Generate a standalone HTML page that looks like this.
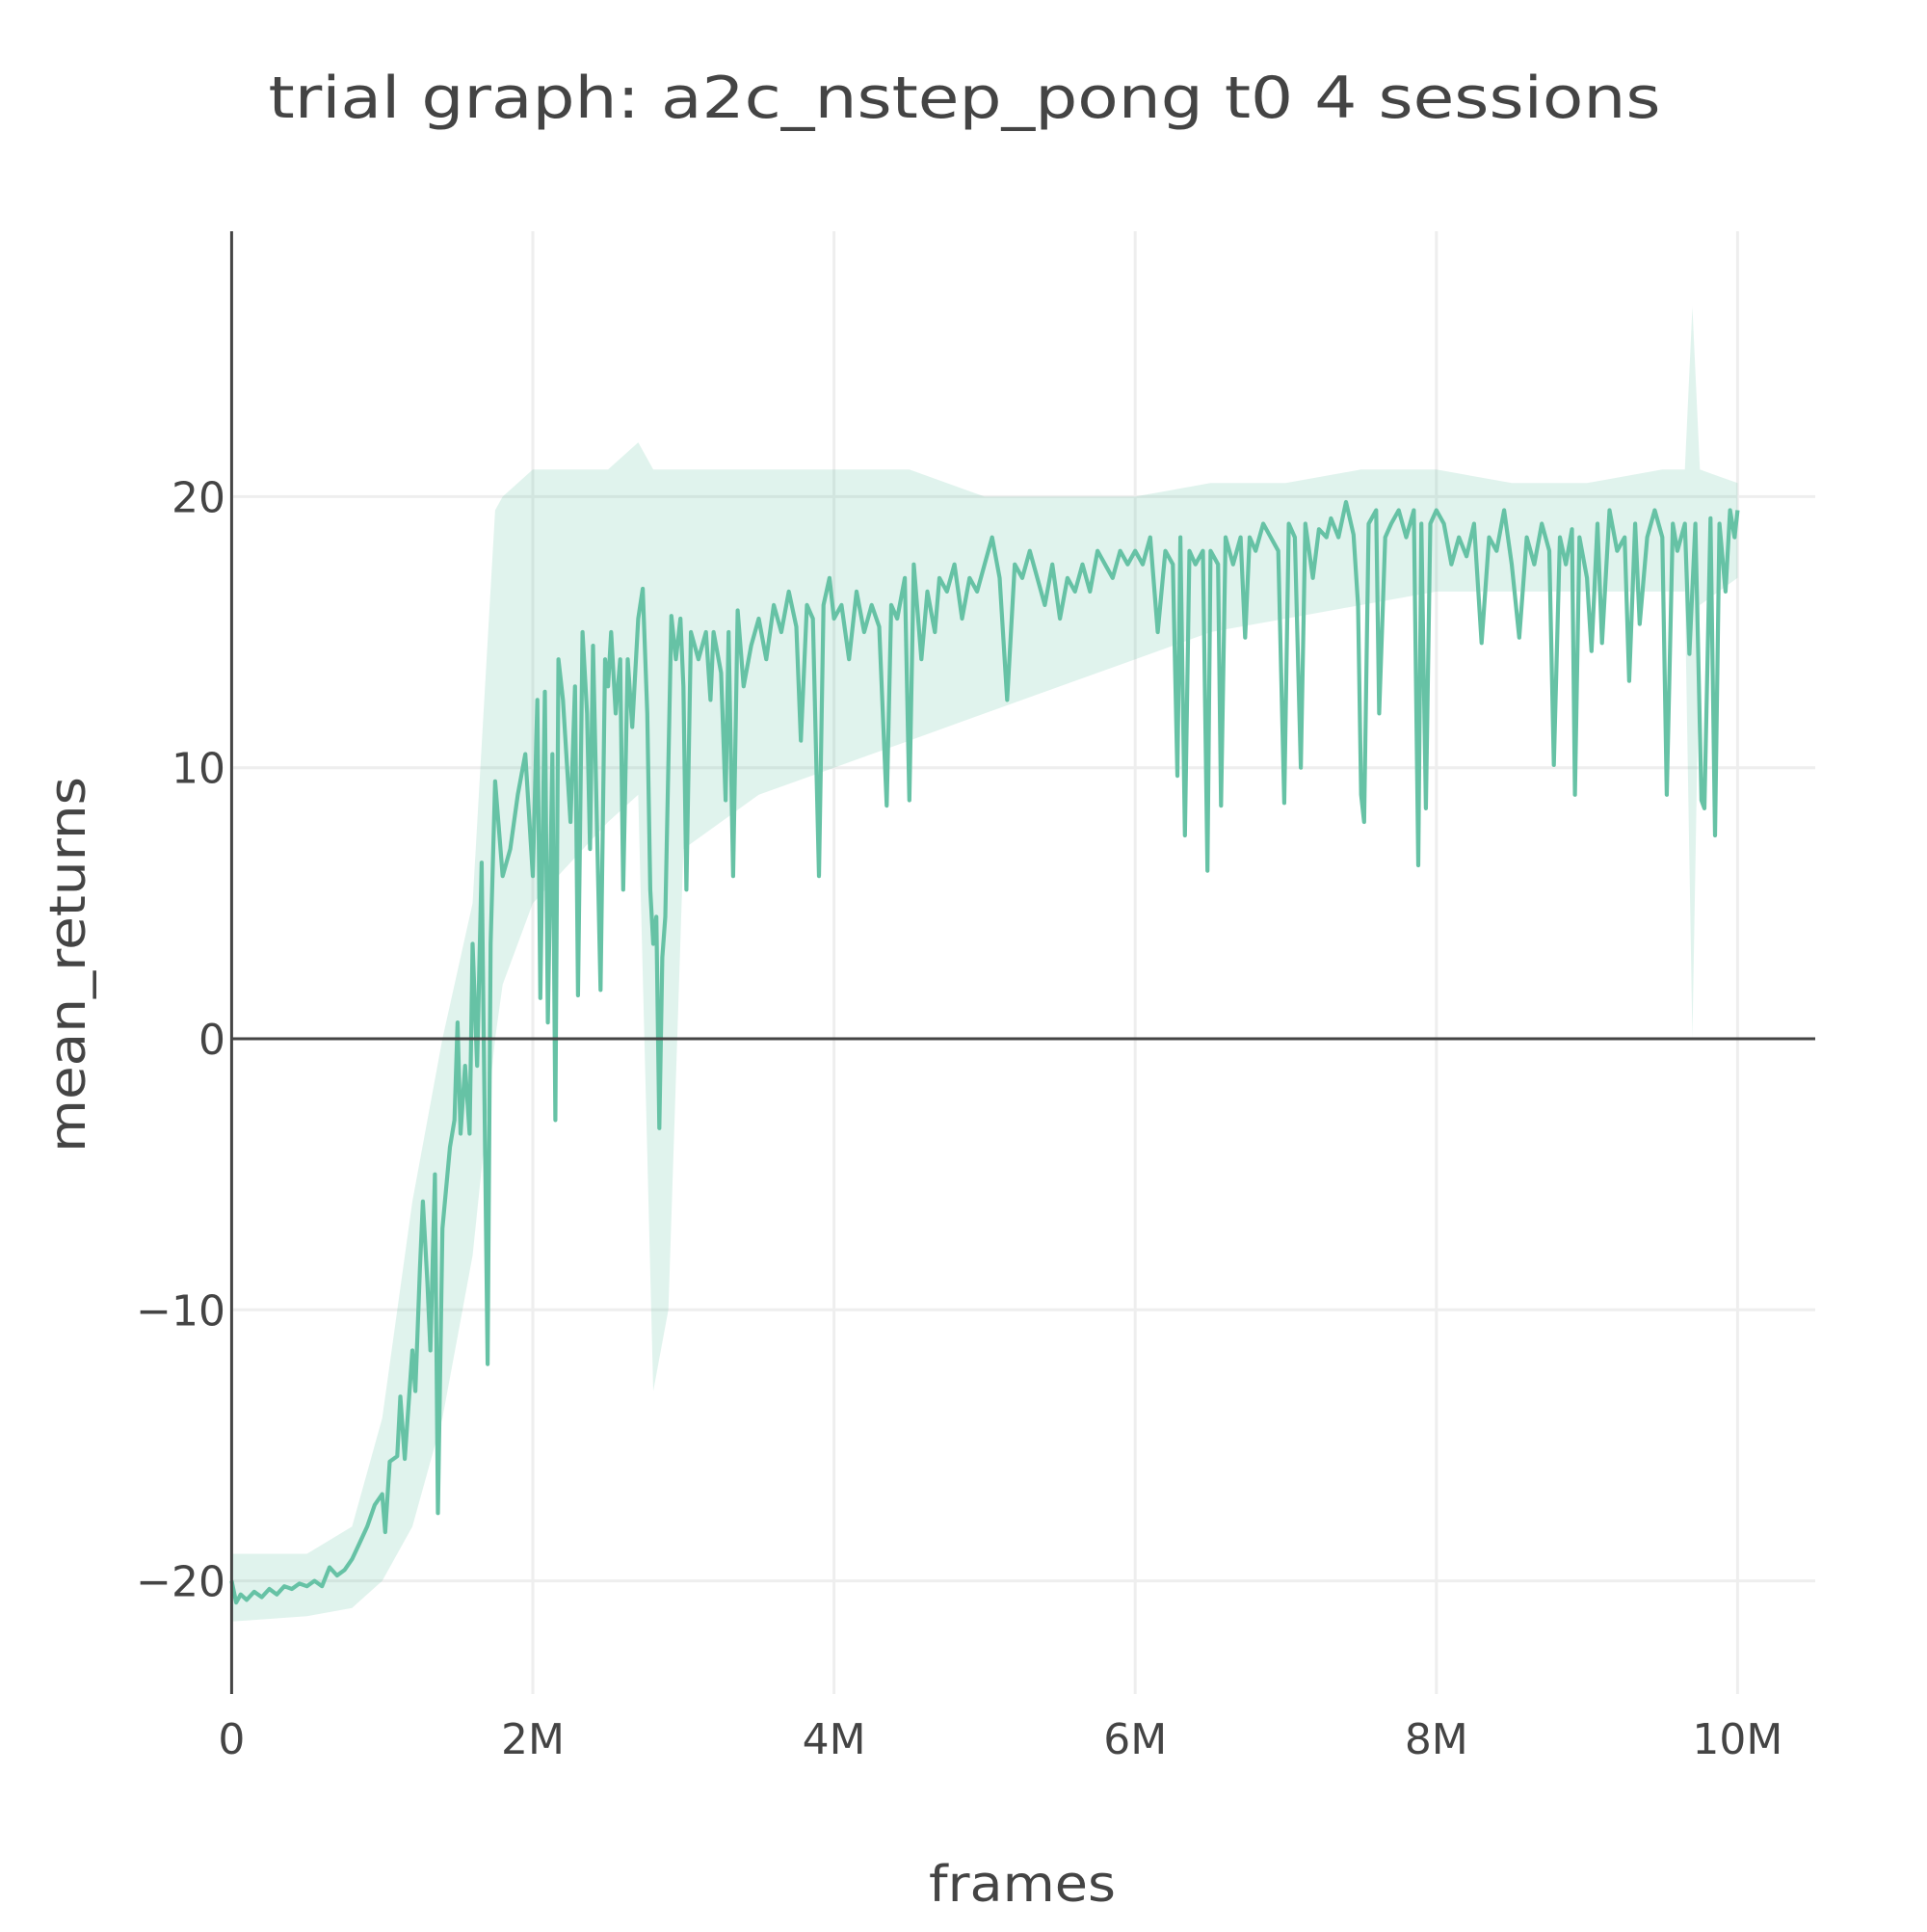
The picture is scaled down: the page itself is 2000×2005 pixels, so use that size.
<!DOCTYPE html>
<html><head><meta charset="utf-8"><style>
html,body{margin:0;padding:0;background:#fff}
svg text{font-family:"DejaVu Sans","Liberation Sans",sans-serif;fill:#444}
</style></head><body>
<svg id="chart" width="2000" height="2000" viewBox="0 0 2000 2000" xmlns="http://www.w3.org/2000/svg">
<rect width="2000" height="2000" fill="#fff"/>
<text x="1001" y="122" font-size="60" text-anchor="middle" textLength="1445" lengthAdjust="spacingAndGlyphs">trial graph: a2c_nstep_pong t0 4 sessions</text>
<g id="grid"></g>
<g id="band"></g>
<g id="series"></g>
<g id="axes"></g>
<text x="1061" y="1973" font-size="52" text-anchor="middle" textLength="194" lengthAdjust="spacingAndGlyphs">frames</text>
<text transform="translate(88,1001) rotate(-90)" font-size="52" text-anchor="middle" textLength="390" lengthAdjust="spacingAndGlyphs">mean_returns</text>
</svg>
<script>
const xTicks=[0,2,4,6,8,10];
const xTickLabels=["0","2M","4M","6M","8M","10M"];
const yTicks=[-20,-10,0,10,20];
const yTickLabels=["\u221220","\u221210","0","10","20"];
const frames=[0,.03,.06,.1,.15,.2,.25,.3,.35,.4,.45,.5,.55,.6,.65,.7,.75,.8,.85,.9,.95,1.0,1.02,1.05,1.1,1.12,1.15,1.2,1.22,1.25,1.27,1.3,1.32,1.35,1.37,1.4,1.45,1.48,1.5,1.52,1.55,1.58,1.6,1.63,1.66,1.7,1.72,1.75,1.8,1.85,1.9,1.95,2.0,2.03,2.05,2.08,2.1,2.13,2.15,2.17,2.2,2.25,2.28,2.3,2.33,2.36,2.38,2.4,2.45,2.48,2.5,2.52,2.55,2.58,2.6,2.63,2.66,2.7,2.73,2.76,2.78,2.8,2.82,2.84,2.86,2.88,2.92,2.95,2.98,3.0,3.02,3.05,3.1,3.15,3.18,3.2,3.25,3.28,3.3,3.33,3.36,3.4,3.45,3.5,3.55,3.6,3.65,3.7,3.75,3.78,3.82,3.86,3.9,3.93,3.97,4.0,4.05,4.1,4.15,4.2,4.25,4.3,4.35,4.38,4.42,4.47,4.5,4.53,4.58,4.62,4.67,4.7,4.75,4.8,4.85,4.9,4.95,5.0,5.05,5.1,5.15,5.2,5.25,5.3,5.35,5.4,5.45,5.5,5.55,5.6,5.65,5.7,5.75,5.8,5.85,5.9,5.95,6.0,6.05,6.1,6.15,6.2,6.25,6.28,6.3,6.33,6.36,6.4,6.45,6.48,6.5,6.55,6.57,6.6,6.65,6.7,6.73,6.76,6.8,6.85,6.9,6.95,6.99,7.02,7.06,7.1,7.13,7.18,7.22,7.27,7.3,7.35,7.4,7.45,7.48,7.5,7.52,7.55,7.6,7.62,7.66,7.7,7.75,7.8,7.85,7.88,7.9,7.93,7.96,8.0,8.05,8.1,8.15,8.2,8.25,8.3,8.35,8.4,8.45,8.5,8.55,8.6,8.65,8.7,8.75,8.78,8.82,8.86,8.9,8.92,8.95,9.0,9.03,9.07,9.1,9.15,9.2,9.25,9.28,9.32,9.35,9.4,9.45,9.5,9.53,9.57,9.6,9.65,9.68,9.72,9.76,9.78,9.82,9.85,9.88,9.92,9.95,9.98,10.0];
const meanReturns=[-20,-20.8,-20.5,-20.7,-20.4,-20.6,-20.3,-20.5,-20.2,-20.3,-20.1,-20.2,-20,-20.2,-19.5,-19.8,-19.6,-19.2,-18.6,-18,-17.2,-16.8,-18.2,-15.6,-15.4,-13.2,-15.5,-11.5,-13,-8.5,-6,-9,-11.5,-5,-17.5,-7,-4,-3,0.6,-3.5,-1,-3.5,3.5,-1,6.5,-12,3.5,9.5,6,7,9,10.5,6,12.5,1.5,12.8,0.6,10.5,-3,14,12.5,8,13,1.6,15,12,7,14.5,1.8,14,13,15,12,14,5.5,14,11.5,15.5,16.6,12,5.5,3.5,4.5,-3.3,3,4.5,15.6,14,15.5,13,5.5,15,14,15,12.5,15,13.5,8.8,15,6,15.8,13,14.5,15.5,14,16,15,16.5,15.2,11,16,15.5,6,16,17,15.5,16,14,16.5,15,16,15.2,8.6,16,15.5,17,8.8,17.5,14,16.5,15,17,16.5,17.5,15.5,17,16.5,17.5,18.5,17,12.5,17.5,17,18,17,16,17.5,15.5,17,16.5,17.5,16.5,18,17.5,17,18,17.5,18,17.5,18.5,15,18,17.5,9.7,18.5,7.5,18,17.5,18,6.2,18,17.5,8.6,18.5,17.5,18.5,14.8,18.5,18,19,18.5,18,8.7,19,18.5,10,19,17,18.8,18.5,19.2,18.5,19.8,18.6,16,9,8,19,19.5,12,18.5,19,19.5,18.5,19.5,6.4,19,8.5,19,19.5,19,17.5,18.5,17.8,19,14.6,18.5,18,19.5,17.5,14.8,18.5,17.5,19,18,10.1,18.5,17.5,18.8,9,18.5,17,14.3,19,14.6,19.5,18,18.5,13.2,19,15.3,18.5,19.5,18.5,9,19,18,19,14.2,19,8.8,8.5,19.2,7.5,19,16.5,19.5,18.5,19.5];
const bandFrames=[0,.5,.8,1.0,1.2,1.4,1.6,1.75,1.8,2.0,2.5,2.7,2.8,2.9,3,3.5,4,4.5,5,5.5,6,6.5,7,7.5,8,8.5,9,9.5,9.65,9.7,9.75,10];
const bandUpper=[-19,-19,-18,-14,-6,0,5,19.5,20,21,21,22,21,21,21,21,21,21,20,20,20,20.5,20.5,21,21,20.5,20.5,21,21,27,21,20.5];
const bandLower=[-21.5,-21.3,-21,-20,-18,-14,-8,0,2,5,8,9,-13,-10,7,9,10,11,12,13,14,15,15.5,16,16.5,16.5,16.5,16.5,16.5,0,16,17];

const NS="http://www.w3.org/2000/svg";
const X0=240.4, XPM=156.3, Y0=1078, YPU=28.13;
const L=240.4,R=1884,T=240,B=1758;
function sx(v){return X0+v*XPM;}
function sy(v){return Y0-v*YPU;}
function mk(tag,attrs,parent){const e=document.createElementNS(NS,tag);for(const k in attrs)e.setAttribute(k,attrs[k]);parent.appendChild(e);return e;}
const grid=document.getElementById('grid');
xTicks.forEach((t,i)=>{
  if(t!==0){const g=mk('line',{x1:sx(t),x2:sx(t),y1:T,y2:B,stroke:'#eee','stroke-width':3},grid);
  
  }
  const tx=mk('text',{x:sx(t),y:1820,'font-size':44,'text-anchor':'middle'},grid);
  tx.textContent=xTickLabels[i];
  
  
});
yTicks.forEach((t,i)=>{
  if(t!==0){const g=mk('line',{x1:L,x2:R,y1:sy(t),y2:sy(t),stroke:'#eee','stroke-width':3},grid);
  
  }
  const tx=mk('text',{x:234,y:sy(t)+16,'font-size':44,'text-anchor':'end'},grid);
  tx.textContent=yTickLabels[i];
  
  
});
let d='';
bandFrames.forEach((f,i)=>{d+=(i?'L':'M')+sx(f).toFixed(1)+','+sy(bandUpper[i]).toFixed(1);});
for(let i=bandFrames.length-1;i>=0;i--){d+='L'+sx(bandFrames[i]).toFixed(1)+','+sy(bandLower[i]).toFixed(1);}
const band=mk('path',{d:d+'Z',fill:'#66c2a5','fill-opacity':0.2,stroke:'none'},document.getElementById('band'));


let p='';
frames.forEach((f,i)=>{p+=(i?'L':'M')+sx(f).toFixed(1)+','+sy(meanReturns[i]).toFixed(1);});
const line=mk('path',{d:p,fill:'none',stroke:'#66c2a5','stroke-width':4.2,'stroke-linejoin':'round'},document.getElementById('series'));


const axes=document.getElementById('axes');
const zl=mk('line',{x1:L,x2:R,y1:sy(0),y2:sy(0),stroke:'#444','stroke-width':3},axes);


const ya=mk('line',{x1:L,x2:L,y1:T,y2:B,stroke:'#444','stroke-width':3},axes);


</script>
</body></html>
